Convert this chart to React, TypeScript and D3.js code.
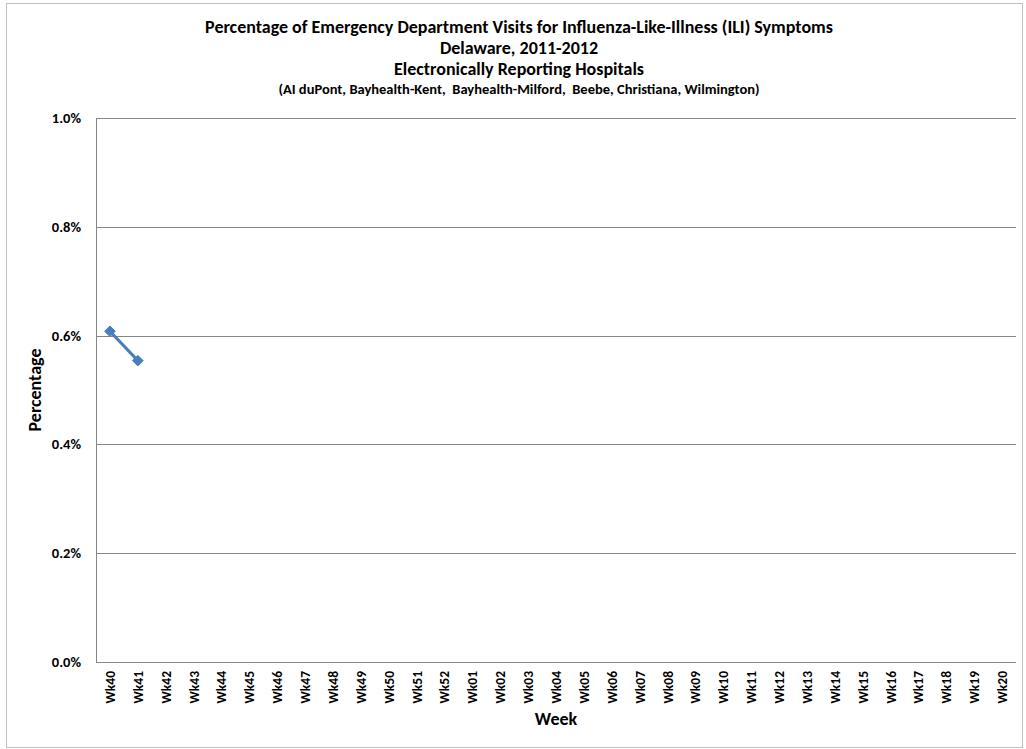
import React from "react";
import * as d3 from "d3";

const weeks = [
  "Wk40", "Wk41", "Wk42", "Wk43", "Wk44", "Wk45", "Wk46", "Wk47", "Wk48", "Wk49", "Wk50", "Wk51", "Wk52",
  "Wk01", "Wk02", "Wk03", "Wk04", "Wk05", "Wk06", "Wk07", "Wk08", "Wk09", "Wk10", "Wk11", "Wk12",
  "Wk13", "Wk14", "Wk15", "Wk16", "Wk17", "Wk18", "Wk19", "Wk20",
];
const iliWeeks = ["Wk40", "Wk41"];
const iliValues = [0.608, 0.554];
const yTicks = [0, 0.2, 0.4, 0.6, 0.8, 1.0];

const titleLines = [
  "Percentage of Emergency Department Visits for Influenza-Like-Illness (ILI) Symptoms",
  "Delaware, 2011-2012",
  "Electronically Reporting Hospitals",
];
const subTitle = "(AI duPont, Bayhealth-Kent,  Bayhealth-Milford,  Beebe, Christiana, Wilmington)";

const FONT = "Carlito, 'Liberation Sans Narrow', 'DejaVu Sans Condensed', 'Open Sans', sans-serif";

export default function App() {
  const W = 1026, H = 749;
  const plot = { left: 96, right: 1016, top: 118, bottom: 662 };
  const x = d3.scaleBand<string>().domain(weeks).range([plot.left, plot.right]);
  const y = d3.scaleLinear().domain([0, 1]).range([plot.bottom, plot.top]);
  const cx = (w: string) => (x(w) ?? 0) + x.bandwidth() / 2;
  const pts = iliWeeks.map((w, i) => [cx(w), y(iliValues[i])] as [number, number]);
  const line = d3.line();
  const tmid = 519;
  const pmid = (plot.left + plot.right) / 2;
  return (
    <svg width={W} height={H} style={{ position: "absolute", left: 0, top: 0, background: "#fff" }} fontFamily={FONT}>
      <rect x={6.5} y={3.5} width={1016} height={744} fill="#fff" stroke="#c0c0c0" />
      {titleLines.map((t, i) => (
        <text key={i} x={tmid} y={33 + i * 21} textAnchor="middle" fontWeight="bold" fontSize={18} fill="#000">{t}</text>
      ))}
      <text x={tmid} y={94} textAnchor="middle" fontWeight="bold" fontSize={14.5} fill="#000" style={{ whiteSpace: "pre" }}>{subTitle}</text>
      {yTicks.map((t) => (
        <g key={t}>
          <line x1={plot.left} x2={plot.right} y1={Math.round(y(t)) + 0.5} y2={Math.round(y(t)) + 0.5} stroke="#868686" strokeWidth={1} />
          <text x={81} y={y(t) + 5} textAnchor="end" fontWeight="bold" fontSize={14.5} fill="#000">{t.toFixed(1) + "%"}</text>
        </g>
      ))}
      <line x1={plot.left + 0.5} x2={plot.left + 0.5} y1={plot.top} y2={plot.bottom} stroke="#868686" />
      {weeks.map((w) => (
        <text key={w} transform={`translate(${cx(w) + 5},${plot.bottom + 9}) rotate(-90)`} textAnchor="end" fontWeight="bold" fontSize={13.5} fill="#000">{w}</text>
      ))}
      <text x={pmid} y={725} textAnchor="middle" fontWeight="bold" fontSize={18} fill="#000">Week</text>
      <text transform={`translate(41,${(plot.top + plot.bottom) / 2}) rotate(-90)`} textAnchor="middle" fontWeight="bold" fontSize={18} fill="#000">Percentage</text>
      <path d={line(pts) ?? ""} fill="none" stroke="#4a7ebb" strokeWidth={3} />
      {pts.map(([px, py], i) => (
        <path key={i} d={d3.symbol(d3.symbolDiamond2, 72)() ?? ""} transform={`translate(${px},${py})`} fill="#4a7ebb" stroke="#4a7ebb" strokeWidth={1} />
      ))}
    </svg>
  );
}
